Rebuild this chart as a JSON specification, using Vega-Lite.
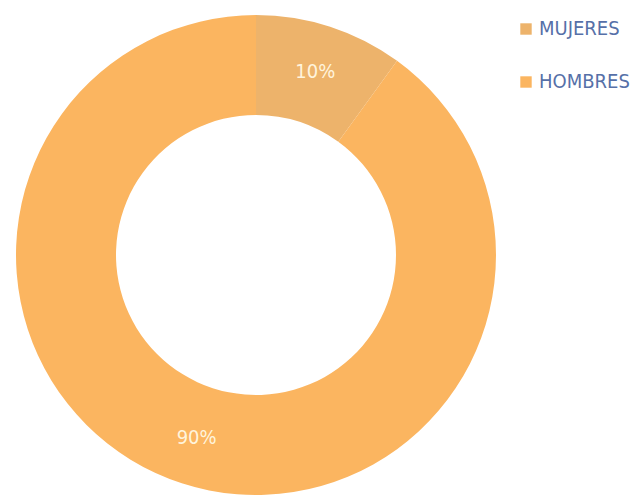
{
  "$schema": "https://vega.github.io/schema/vega-lite/v6.json",
  "width": 480,
  "height": 480,
  "autosize": "none",
  "padding": {"top": 15, "left": 16, "right": 144, "bottom": 0},
  "background": "white",
  "view": {"stroke": null},
  "data": {"values": [
    {"sexo": "MUJERES", "pct": 10, "orden": 1, "etiqueta": "10%"},
    {"sexo": "HOMBRES", "pct": 90, "orden": 2, "etiqueta": "90%"}
  ]},
  "encoding": {
    "theta": {"field": "pct", "type": "quantitative", "stack": true},
    "order": {"field": "orden", "type": "quantitative"}
  },
  "layer": [
    {
      "mark": {"type": "arc", "outerRadius": 240, "innerRadius": 140, "stroke": null},
      "encoding": {
        "color": {
          "field": "sexo", "type": "nominal",
          "scale": {"domain": ["MUJERES", "HOMBRES"], "range": ["#EDB36B", "#FBB560"]},
          "legend": {
            "title": null,
            "orient": "none",
            "legendX": 500,
            "legendY": 4,
            "symbolType": "square",
            "symbolSize": 130,
            "symbolStrokeWidth": 0,
            "labelFont": "DejaVu Sans Condensed",
            "labelFontSize": 20,
            "labelColor": "#5670A8",
            "labelOffset": 3,
            "labelLimit": 200,
            "rowPadding": 33
          }
        }
      }
    },
    {
      "mark": {"type": "text", "radius": 192, "font": "DejaVu Sans Condensed", "fontSize": 20, "color": "#FFF4DC"},
      "encoding": {"text": {"field": "etiqueta", "type": "nominal"}}
    }
  ]
}
